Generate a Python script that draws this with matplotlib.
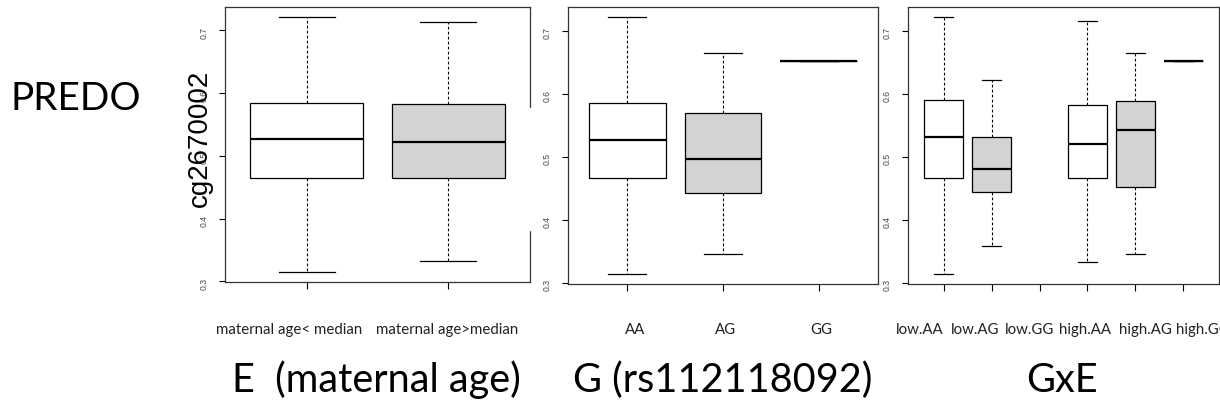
import matplotlib.pyplot as plt
from matplotlib.patches import Rectangle

# --- dados ---
e_labels = ['maternal age< median', 'maternal age>median']
e_whislo = [0.315, 0.333]
e_q1 = [0.465, 0.464]
e_med = [0.526, 0.522]
e_q3 = [0.584, 0.583]
e_whishi = [0.721, 0.714]

g_labels = ['AA', 'AG', 'GG']
g_whislo = [0.3145, 0.346, 0.652]
g_q1 = [0.466, 0.443, 0.652]
g_med = [0.526, 0.497, 0.652]
g_q3 = [0.585, 0.569, 0.652]
g_whishi = [0.721, 0.665, 0.652]

gxe_labels = ['low.AA', 'low.AG', 'low.GG', 'high.AA', 'high.AG', 'high.GG']
gxe_whislo = [0.3145, 0.359, None, 0.3325, 0.346, 0.652]
gxe_q1 = [0.467, 0.445, None, 0.466, 0.452, 0.652]
gxe_med = [0.532, 0.480, None, 0.521, 0.543, 0.652]
gxe_q3 = [0.590, 0.531, None, 0.582, 0.588, 0.652]
gxe_whishi = [0.7215, 0.622, None, 0.715, 0.665, 0.652]

W, H = 1220, 411
fig = plt.figure(figsize=(W / 100, H / 100), dpi=100)


def add_ax(l, r, t, b):
    return fig.add_axes([l / W, 1 - b / H, (r - l) / W, (b - t) / H])


# Função para desenhar um painel de boxplots no estilo do R
def painel(ax, whislo, q1, med, q3, whishi, fills):
    n = len(med)
    stats, pos, cores = [], [], []
    for i in range(n):
        if med[i] is None:
            continue
        stats.append(dict(whislo=whislo[i], q1=q1[i], med=med[i], q3=q3[i],
                          whishi=whishi[i], fliers=[]))
        pos.append(i + 1)
        cores.append(fills[i])
    bp = ax.bxp(stats, positions=pos, widths=0.8, capwidths=0.4,
                patch_artist=True, showfliers=False,
                boxprops=dict(edgecolor='black', linewidth=0.9),
                medianprops=dict(color='black', linewidth=1.6, solid_capstyle='butt'),
                whiskerprops=dict(color='black', linewidth=0.8, linestyle=(0, (2.5, 2))),
                capprops=dict(color='black', linewidth=0.9))
    for patch, c in zip(bp['boxes'], cores):
        patch.set_facecolor(c)
    vals = [v for v in whislo + whishi if v is not None]
    lo, hi = min(vals), max(vals)
    pad = 0.04 * (hi - lo)
    ax.set_ylim(lo - pad, hi + pad)
    ax.set_xlim(0.5 - 0.04 * n, n + 0.5 + 0.04 * n)
    ax.set_yticks([0.3, 0.4, 0.5, 0.6, 0.7])
    ax.set_xticks(range(1, n + 1))
    ax.set_xticklabels([''] * n)
    ax.tick_params(axis='y', labelrotation=90, labelsize=6.2, labelcolor='#444444',
                   length=4, width=0.8, pad=8)
    ax.tick_params(axis='x', length=5, width=0.8)
    for s in ax.spines.values():
        s.set_color('#333333')
        s.set_linewidth(0.9)
    for lab in ax.get_yticklabels():
        lab.set_family('Liberation Sans')


ax1 = add_ax(225, 530, 7, 282)
ax2 = add_ax(568, 878, 7, 284)
ax3 = add_ax(908, 1219, 7, 284)

painel(ax1, e_whislo, e_q1, e_med, e_q3, e_whishi, ['white', 'lightgray'])
painel(ax2, g_whislo, g_q1, g_med, g_q3, g_whishi, ['white', 'lightgray', 'white'])
painel(ax3, gxe_whislo, gxe_q1, gxe_med, gxe_q3, gxe_whishi,
       ['white', 'lightgray', 'white', 'white', 'lightgray', 'white'])

# falha na borda direita do primeiro painel
fig.patches.append(Rectangle((526 / W, 1 - 230 / H), 8 / W, 122 / H,
                             transform=fig.transFigure, color='white', zorder=5))

# rótulos das categorias (colocados à mão como na figura original)
cat_x = [289, 447, 635, 726, 821, 920, 975, 1030, 1085, 1145, 1203]
for lab, x in zip(e_labels + g_labels + gxe_labels, cat_x):
    fig.text(x / W, 1 - 330 / H, lab, ha='center', va='center',
             fontsize=10.8, family='Lato', color='#222222')

fig.text(200 / W, 1 - 138 / H, 'cg2670002', rotation=90, ha='center', va='center',
         fontsize=20, family='Liberation Sans')
fig.text(10 / W, 1 - 99 / H, 'PREDO', ha='left', va='center', fontsize=28, family='Lato')
fig.text(232 / W, 1 - 380 / H, 'E  (maternal age)', ha='left', va='center',
         fontsize=28.5, family='Lato')
fig.text(573 / W, 1 - 380 / H, 'G (rs112118092)', ha='left', va='center',
         fontsize=28.5, family='Lato')
fig.text(1062 / W, 1 - 380 / H, 'GxE', ha='center', va='center', fontsize=28.5, family='Lato')

fig.savefig('out.png', dpi=100)
